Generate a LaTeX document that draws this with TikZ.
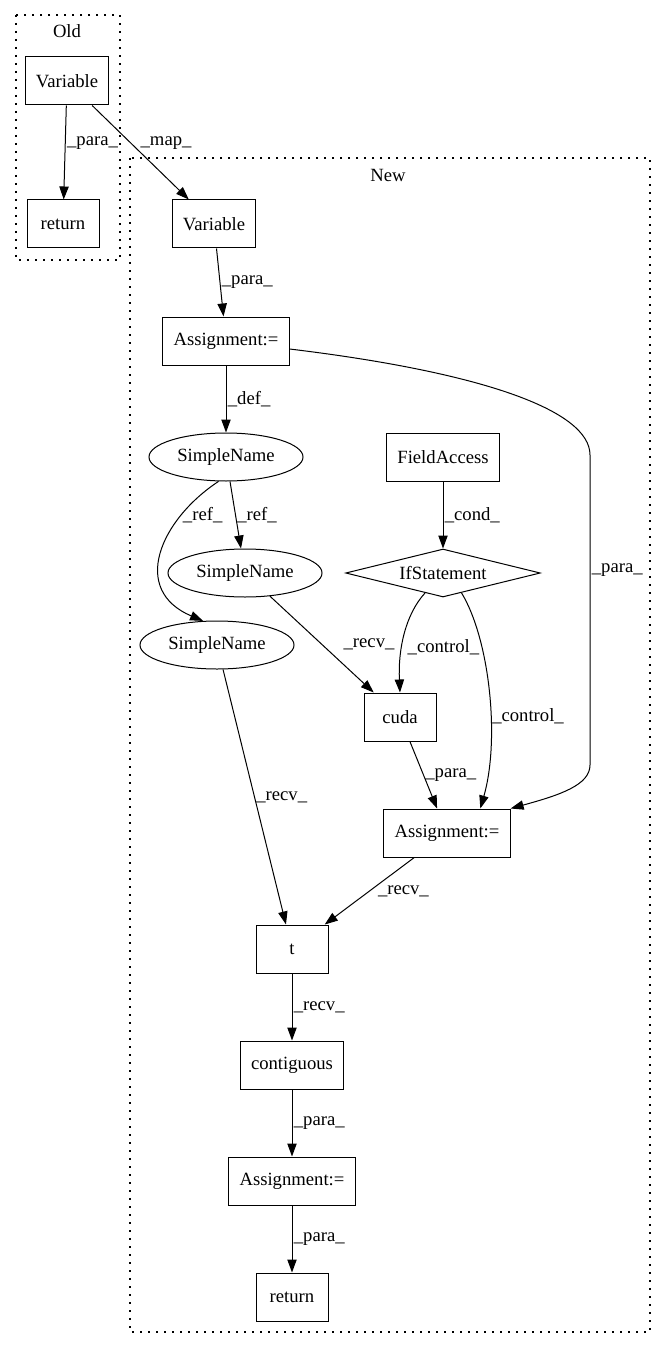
\documentclass[tikz,border=0pt]{standalone}
\usepackage{fontspec}
\setmainfont{Liberation Serif}
\usetikzlibrary{shapes.geometric,arrows.meta}

\begin{document}
\begin{tikzpicture}[
  x={(0.75pt,0pt)}, y={(0pt,-0.75pt)},
  every node/.style = {font=\fontsize{14}{16}\selectfont},
  box/.style  = {shape=rectangle, draw, line width=0.75pt,
    minimum width=54pt, minimum height=36pt, inner xsep=8pt},
  oval/.style = {shape=ellipse, draw, line width=0.75pt,
    minimum width=115.5pt, minimum height=36pt, inner sep=0pt},
  test/.style = {shape=diamond, draw, line width=0.75pt, aspect=4,
    minimum width=146pt, minimum height=36pt, inner sep=0pt},
  lbl/.style  = {anchor=west, inner sep=1pt},
  arr/.style  = {line width=0.75pt, -{Triangle[length=9.75pt, width=7pt]}},
  group/.style = {line width=0.8pt, dash pattern=on 1.2pt off 4.8pt}]
\useasboundingbox (0,0) rectangle (667,1348);

% clusters
\draw[group] (16,15) rectangle (120,260);
\node (oldname) at (67,31) {Old};
\draw[group] (130,158) rectangle (650,1332);
\node (newname) at (388,175) {New};

% old
\node[box] (oVar) at (67,81) {Variable};
\node[box] (oRet) at (63,224) {return};

% new
\node[box]  (nVar)   at (214,224) {Variable};
\node[box]  (asgA)   at (226,341) {Assignment:=};
\node[oval] (snA)    at (226,457) {SimpleName};
\node[box]  (field)  at (443,457) {FieldAccess};
\node[test] (ifst)   at (443,573) {IfStatement};
\node[oval] (snB)    at (245,573) {SimpleName};
\node[oval] (snC)    at (217,645) {SimpleName};
\node[box]  (cuda)   at (400,717) {cuda};
\node[box]  (asgB)   at (447,833) {Assignment:=};
\node[box]  (tt)     at (292,949) {t};
\node[box]  (contig) at (292,1065) {contiguous};
\node[box]  (asgC)   at (292,1181) {Assignment:=};
\node[box]  (nRet)   at (292,1297) {return};

% edges
\draw[arr] (oVar) -- node[lbl, pos=0.4] {\_para\_} (oRet);
\draw[arr] (oVar) -- node[lbl, pos=0.4, xshift=6pt] {\_map\_} (nVar);
\draw[arr] (nVar) -- node[lbl] {\_para\_} (asgA);
\draw[arr] (asgA) -- node[lbl] {\_def\_} (snA);
\draw[arr] ([yshift=-6pt]asgA.east) .. controls (480,372) and (590,410) .. (590,455)
  -- node[lbl, pos=0.37] {\_para\_} (590,765)
  .. controls (590,785) and (560,795) .. (asgB.north east);
\draw[arr] (snA) -- node[lbl] {\_ref\_} (snB);
\draw[arr] (snA.253) .. controls (160,520) and (130,590) .. node[lbl, pos=0.25] {\_ref\_} (snC.120);
\draw[arr] (field) -- node[lbl] {\_cond\_} (ifst);
\draw[arr] (ifst.228) .. controls (405,615) and (398,650) .. node[lbl, pos=0.62, xshift=3pt] {\_control\_} (cuda.north);
\draw[arr] (ifst.313) .. controls (490,640) and (500,740) .. node[lbl, pos=0.6] {\_control\_} ([xshift=25pt]asgB.north);
\draw[arr] (snB) -- node[lbl, xshift=15pt] {\_recv\_} (cuda);
\draw[arr] (cuda) -- node[lbl] {\_para\_} (asgB);
\draw[arr] (snC) -- node[lbl] {\_recv\_} (tt);
\draw[arr] (asgB) -- node[lbl, xshift=5pt] {\_recv\_} (tt);
\draw[arr] (tt) -- node[lbl] {\_recv\_} (contig);
\draw[arr] (contig) -- node[lbl] {\_para\_} (asgC);
\draw[arr] (asgC) -- node[lbl] {\_para\_} (nRet);
\end{tikzpicture}
\end{document}
